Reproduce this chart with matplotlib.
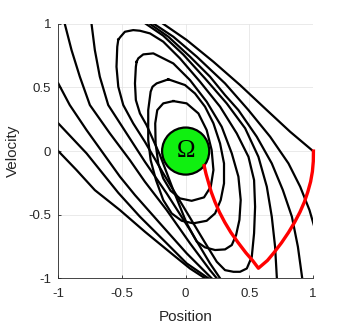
import matplotlib
matplotlib.use("Agg")
import matplotlib.pyplot as plt
from matplotlib.patches import Circle

plt.rcParams['font.family'] = ['Liberation Sans', 'DejaVu Sans']

# trajectories (position, velocity)
# lines coming in from the left / top and leaving through the bottom
l1_x = [-1.0, -0.857, -0.713, -0.516, -0.320, -0.097, 0.034, 0.152]
l1_y = [0.0, -0.149, -0.307, -0.464, -0.634, -0.817, -0.923, -1.0]
l2_x = [-1.0, -0.778, -0.529, -0.359, -0.149, 0.008, 0.178]
l2_y = [0.218, -0.018, -0.328, -0.516, -0.725, -0.883, -1.0]
l3_x = [-1.0, -0.910, -0.778, -0.647, -0.516, -0.398, -0.202, 0.008, 0.204]
l3_y = [0.532, 0.362, 0.165, -0.018, -0.201, -0.346, -0.568, -0.804, -1.0]
l4_x = [-0.949, -0.896, -0.831, -0.752, -0.595, -0.438, -0.320, -0.149, 0.034, 0.191, 0.244]
l4_y = [1.0, 0.794, 0.585, 0.362, 0.139, -0.071, -0.241, -0.464, -0.725, -0.936, -1.0]
l5_x = [-0.739, -0.713, -0.674, -0.608, -0.464, -0.320, -0.149, 0.034, 0.191, 0.270]
l5_y = [1.0, 0.794, 0.585, 0.362, 0.139, -0.084, -0.333, -0.620, -0.883, -1.0]

# closed loops around the target set, inner to outer
a_x = [-0.097, 0.008, 0.100, 0.165, 0.204, 0.218, 0.197, 0.144, 0.047, -0.045, -0.118,
       -0.176, -0.215, -0.236, -0.239, -0.223, -0.176, -0.097]
a_y = [0.393, 0.375, 0.296, 0.165, 0.008, -0.149, -0.280, -0.364, -0.391, -0.372, -0.312,
       -0.215, -0.097, 0.060, 0.218, 0.322, 0.375, 0.393]
b_x = [-0.136, -0.005, 0.073, 0.152, 0.218, 0.270, 0.301, 0.301, 0.275, 0.231, 0.165, 0.060,
       -0.031, -0.110, -0.176, -0.233, -0.275, -0.294, -0.294, -0.275, -0.260, -0.228, -0.136]
b_y = [0.564, 0.519, 0.453, 0.349, 0.218, 0.060, -0.097, -0.254, -0.385, -0.490, -0.548, -0.568,
       -0.548, -0.490, -0.385, -0.228, -0.071, 0.087, 0.322, 0.467, 0.506, 0.532, 0.564]
c_x = [-0.385, -0.372, -0.333, -0.254, -0.097, 0.034, 0.165, 0.283, 0.362, 0.414, 0.432, 0.422,
       0.396, 0.362, 0.309, 0.231, 0.152, 0.087, 0.008, -0.097, -0.202, -0.307, -0.359, -0.391,
       -0.398, -0.391, -0.385]
c_y = [0.702, 0.729, 0.760, 0.768, 0.689, 0.558, 0.388, 0.191, -0.018, -0.201, -0.385, -0.541,
       -0.660, -0.739, -0.773, -0.778, -0.757, -0.712, -0.568, -0.307, -0.031, 0.204, 0.296, 0.401,
       0.532, 0.663, 0.702]
d_x = [-0.529, -0.511, -0.477, -0.412, -0.359, -0.280, -0.176, -0.045, 0.113, 0.270, 0.401,
       0.493, 0.537, 0.545, 0.537, 0.519, 0.480, 0.427, 0.375, 0.309, 0.244, 0.139, -0.018,
       -0.176, -0.320, -0.412, -0.490, -0.529, -0.543, -0.537, -0.529]
d_y = [0.876, 0.899, 0.938, 0.951, 0.946, 0.925, 0.860, 0.729, 0.545, 0.349, 0.139,
       -0.045, -0.228, -0.438, -0.646, -0.831, -0.923, -0.949, -0.949, -0.936, -0.870, -0.699, -0.437,
       -0.175, 0.073, 0.218, 0.362, 0.506, 0.663, 0.820, 0.876]

# bundle from the top leaving through the bottom / right edge
e_x = [-0.312, -0.176, -0.018, 0.152, 0.322, 0.467, 0.571, 0.637, 0.676, 0.702, 0.716]
e_y = [1.0, 0.907, 0.758, 0.571, 0.375, 0.179, -0.045, -0.280, -0.516, -0.752, -1.0]
f_x = [-0.280, -0.136, 0.034, 0.191, 0.309, 0.414, 0.558, 0.676, 0.763, 0.834, 0.881, 0.915]
f_y = [1.0, 0.899, 0.742, 0.585, 0.440, 0.322, 0.113, -0.097, -0.307, -0.516, -0.752, -1.0]
g_x = [-0.249, -0.097, 0.087, 0.309, 0.493, 0.663, 0.807, 0.899, 0.972, 1.017]
g_y = [1.0, 0.899, 0.742, 0.532, 0.322, 0.113, -0.097, -0.280, -0.464, -0.620]
r1_x = [-0.176, 0.008, 0.218, 0.427, 0.637, 0.820, 1.0]
r1_y = [1.0, 0.873, 0.702, 0.519, 0.322, 0.152, 0.0]

black_curves = [(l1_x, l1_y), (l2_x, l2_y), (l3_x, l3_y), (l4_x, l4_y), (l5_x, l5_y),
                (a_x, a_y), (b_x, b_y), (c_x, c_y), (d_x, d_y),
                (e_x, e_y), (f_x, f_y), (g_x, g_y), (r1_x, r1_y)]

# red trajectory (two arcs meeting at the bottom corner)
red_x = [0.145, 0.16, 0.18, 0.20, 0.23, 0.265, 0.307, 0.355, 0.412, 0.473, 0.525, 0.571,
         0.642, 0.692, 0.753, 0.807, 0.855, 0.897, 0.932, 0.959, 0.981, 0.995, 1.002, 1.003]
red_y = [-0.115, -0.18, -0.25, -0.32, -0.40, -0.48, -0.56, -0.64, -0.72, -0.80, -0.86, -0.921,
         -0.86, -0.80, -0.72, -0.64, -0.56, -0.48, -0.40, -0.32, -0.24, -0.16, -0.08, 0.0]

omega_center = (0.0, 0.0)
omega_radius = 0.185

ticks = [-1, -0.5, 0, 0.5, 1]
tick_labels = ['-1', '-0.5', '0', '0.5', '1']

fig = plt.figure(figsize=(3.49, 3.27), dpi=100)
ax = fig.add_axes([0.167, 0.149, 0.730, 0.778])

for xs, ys in black_curves:
    ax.plot(xs, ys, color='black', linewidth=1.6, solid_joinstyle='round', zorder=2)

ax.add_patch(Circle(omega_center, omega_radius, facecolor='#10f010', edgecolor='black',
                    linewidth=1.6, zorder=3))
ax.text(omega_center[0], omega_center[1], '\u03a9', ha='center', va='center', fontsize=18,
        family=['Liberation Serif', 'DejaVu Serif'], zorder=4)

ax.plot(red_x, red_y, color='red', linewidth=2.4, solid_joinstyle='round', zorder=4, clip_on=False)

ax.set_xlim(-1, 1)
ax.set_ylim(-1, 1)
ax.set_xticks(ticks)
ax.set_xticklabels(tick_labels)
ax.set_yticks(ticks)
ax.set_yticklabels(tick_labels)
ax.grid(True, color='#e6e6e6', linewidth=0.6)
ax.set_axisbelow(True)
for side in ['top', 'right']:
    ax.spines[side].set_visible(False)
for side in ['left', 'bottom']:
    ax.spines[side].set_color('#262626')
    ax.spines[side].set_linewidth(0.6)
ax.tick_params(direction='in', length=2.5, width=0.6, color='#262626', labelcolor='#262626',
               labelsize=9.5, pad=5)
ax.tick_params(axis='x', pad=7)

ax.set_xlabel('Position', fontsize=11, color='#262626')
ax.set_ylabel('Velocity', fontsize=11, color='#262626')
ax.xaxis.set_label_coords(0.5, -0.152)
ax.xaxis.label.set_verticalalignment('center')
ax.yaxis.set_label_coords(-0.178, 0.5)
ax.yaxis.label.set_verticalalignment('center')

fig.savefig('out.png', dpi=100)
